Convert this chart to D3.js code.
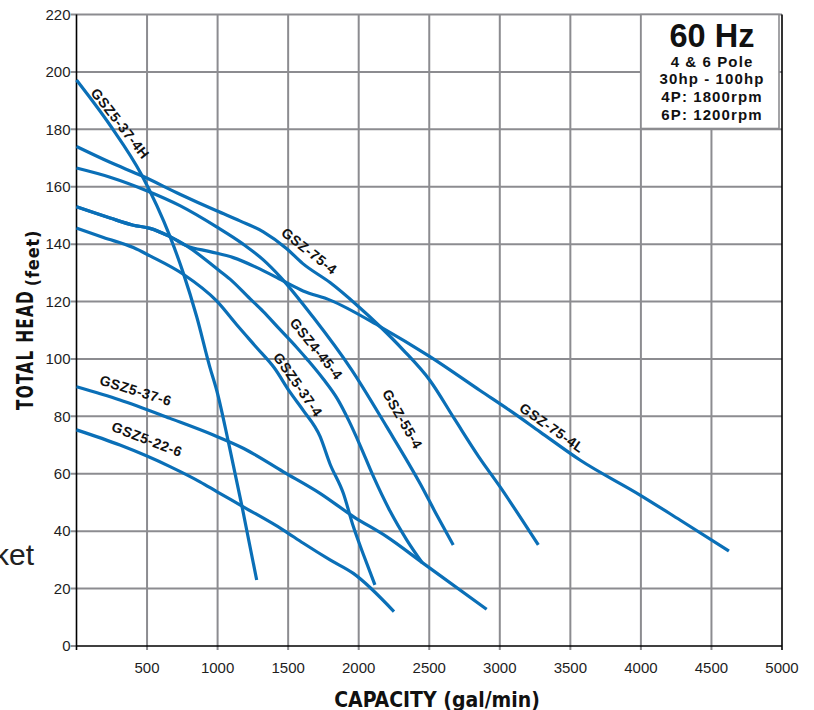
<!DOCTYPE html>
<html>
<head>
<meta charset="utf-8">
<script src="https://cdn.jsdelivr.net/npm/d3@7"></script>
<style>
  html, body { margin: 0; padding: 0; background: #fff; }
  svg { display: block; }
</style>
</head>
<body>
<svg id="chart" width="814" height="710"></svg>
<script>
// ---------- data (capacity gal/min, total head feet) ----------
const xTicks = [500, 1000, 1500, 2000, 2500, 3000, 3500, 4000, 4500, 5000];
const yTicks = [0, 20, 40, 60, 80, 100, 120, 140, 160, 180, 200, 220];

const seriesNames = ["GSZ5-37-4H", "GSZ-75-4", "GSZ-55-4", "GSZ-75-4L", "GSZ4-45-4", "GSZ5-37-4", "GSZ5-37-6", "GSZ5-22-6"];

const gsz5_37_4H = [[0,197.2],[237,181.5],[462,164.1],[663,142.6],[757,129.9],[852,114.7],[946,97],[994,89],[1076,71.2],[1171,49.1],[1277,23.0]];
const gsz_75_4   = [[0,174],[238,168.5],[462,163.8],[733,157.4],[993,151.6],[1158,148.1],[1324,144.3],[1488,138.5],[1602,133.3],[1797,126.6],[1986,118.8],[2151,111.3],[2316,103.1],[2505,92.5],[2680,79],[2850,66],[3001,55.5],[3273,35.2]];
const gsz_55_4   = [[0,166.5],[238,163.3],[498,158.6],[733,153.4],[993,146],[1181,140],[1324,134.5],[1442,128.7],[1678,114.5],[1950,96.2],[2198,76.4],[2434,56.7],[2560,45],[2670,35.2]];
const gsz_75_4L  = [[0,153],[238,149.1],[403,146.6],[521,145.5],[663,142.6],[781,139.4],[946,137.4],[1111,135.3],[1276,131.9],[1464,127.2],[1606,123.7],[1797,120.5],[2151,111.3],[2505,100.8],[2860,89],[3096,81.2],[3285,74.6],[3568,64.8],[3994,52.6],[4277,43.9],[4624,33.1]];
const gsz4_45_4  = [[0,153],[238,149.1],[403,146.6],[521,145.5],[663,142.6],[781,139.4],[993,131.5],[1088,127.8],[1229,121],[1324,116.5],[1428,111],[1561,104],[1641,99.5],[1749,93],[1850,86],[1930,78.5],[2009,70],[2100,59.5],[2222,47],[2340,37],[2450,29]];
const gsz5_37_4  = [[0,145.6],[191,142.3],[403,138.8],[521,135.9],[757,129.5],[993,120.2],[1134,112],[1276,104],[1400,97],[1512,88.5],[1608,82],[1726,73],[1796,63.5],[1891,53.2],[1962,41.6],[2040,31],[2115,21.3]];
const gsz5_37_6  = [[0,90.3],[308,85.7],[663,79.3],[970,73.5],[1182,68.9],[1466,60.7],[1726,53.2],[1962,45.1],[2198,38.1],[2458,28.8],[2907,12.8]];
const gsz5_22_6  = [[0,75.3],[308,70],[663,62.5],[875,57.2],[994,53.8],[1182,48.5],[1466,40.4],[1608,35.8],[1797,30],[1962,25.3],[2250,12]];

const seriesData = [gsz5_37_4H, gsz_75_4, gsz_55_4, gsz_75_4L, gsz4_45_4, gsz5_37_4, gsz5_37_6, gsz5_22_6];

// label centre (capacity, head) and rotation angle for each curve label
const labelCapacity = [310, 1650, 2310, 3370, 1700, 1570, 420, 500];
const labelHead     = [182, 137.6, 79, 76, 103.5, 91, 89, 72];
const labelAngle    = [52, 38, 60, 35, 51, 55, 17, 21];

const legendLines = ["4 & 6 Pole", "30hp - 100hp", "4P: 1800rpm", "6P: 1200rpm"];

// ---------- drawing ----------
const svg = d3.select("#chart");
const L = 76.5, R = 782, T = 14.5, B = 646;
const x = d3.scaleLinear().domain([0, 5000]).range([L, R]);
const y = d3.scaleLinear().domain([0, 220]).range([B, T]);

const gridColor = "#8c8c90";
const blue = "#0a6fb7";
const font = "'Liberation Sans', Arial, Helvetica, sans-serif";
const condensed = "'Liberation Sans Narrow', 'DejaVu Sans Condensed', 'Arial Narrow', 'Liberation Sans', sans-serif";

// grid
const g = svg.append("g");
g.selectAll("line.vg").data(xTicks.filter(d => d < 5000)).enter().append("line")
  .attr("x1", d => x(d)).attr("x2", d => x(d)).attr("y1", T).attr("y2", B + 4)
  .attr("stroke", gridColor).attr("stroke-width", 2);
g.selectAll("line.hg").data(yTicks.filter(d => d > 0)).enter().append("line")
  .attr("x1", L - 6).attr("x2", R).attr("y1", d => y(d)).attr("y2", d => y(d))
  .attr("stroke", gridColor).attr("stroke-width", 2);
g.append("line").attr("x1", L - 6).attr("x2", L).attr("y1", y(0)).attr("y2", y(0))
  .attr("stroke", gridColor).attr("stroke-width", 2);

// axes lines
g.append("line").attr("x1", L).attr("x2", L).attr("y1", T).attr("y2", B + 4).attr("stroke", "#000").attr("stroke-width", 1.6);
g.append("line").attr("x1", L).attr("x2", R).attr("y1", B).attr("y2", B).attr("stroke", "#000").attr("stroke-width", 1.6);
g.append("line").attr("x1", R).attr("x2", R).attr("y1", T).attr("y2", B + 4).attr("stroke", "#000").attr("stroke-width", 1.6);

// tick labels
svg.append("g").selectAll("text").data(xTicks).enter().append("text")
  .attr("x", d => x(d)).attr("y", 672.5).attr("text-anchor", "middle")
  .attr("font-family", font).attr("font-size", 15).attr("fill", "#1e1e1e")
  .text(d => d);
svg.append("g").selectAll("text").data(yTicks).enter().append("text")
  .attr("x", 70.5).attr("y", d => y(d) + 5.3).attr("text-anchor", "end")
  .attr("font-family", font).attr("font-size", 15).attr("fill", "#1e1e1e")
  .text(d => d);

// curves
const line = d3.line().x(d => x(d[0])).y(d => y(d[1])).curve(d3.curveMonotoneX);
svg.append("g").selectAll("path").data(seriesData).enter().append("path")
  .attr("d", line).attr("fill", "none").attr("stroke", blue)
  .attr("stroke-width", 3.2).attr("stroke-linecap", "butt").attr("stroke-linejoin", "round");

// curve labels
svg.append("g").selectAll("text").data(seriesNames).enter().append("text")
  .attr("transform", (d, i) => `translate(${x(labelCapacity[i])},${y(labelHead[i])}) rotate(${labelAngle[i]})`)
  .attr("text-anchor", "middle").attr("dy", "0.35em")
  .attr("font-family", font).attr("font-weight", "bold").attr("font-size", 14)
  .attr("letter-spacing", 0.6).attr("fill", "#111")
  .text(d => d);

// legend box
const lg = svg.append("g");
lg.append("rect").attr("x", 641).attr("y", T).attr("width", 138).attr("height", 114)
  .attr("fill", "#fff").attr("stroke", gridColor).attr("stroke-width", 1.6);
lg.append("text").attr("x", 712).attr("y", 47).attr("text-anchor", "middle")
  .attr("font-family", font).attr("font-weight", "bold").attr("font-size", 32.5).attr("fill", "#111")
  .text("60 Hz");
lg.selectAll("text.ll").data(legendLines).enter().append("text")
  .attr("x", 712).attr("y", (d, i) => 66.5 + i * 17.7).attr("text-anchor", "middle")
  .attr("font-family", font).attr("font-weight", "bold").attr("font-size", 15)
  .attr("letter-spacing", 1.1).attr("fill", "#111")
  .text(d => d);

// axis titles
svg.append("text").attr("x", 437).attr("y", 706.5).attr("text-anchor", "middle")
  .attr("font-family", condensed).attr("font-weight", "bold").attr("font-size", 21).attr("fill", "#111")
  .text("CAPACITY (gal/min)");

svg.append("text").attr("transform", "translate(33,350) rotate(-90) scale(1,1.4)").attr("text-anchor", "middle")
  .attr("font-family", condensed).attr("font-weight", "bold").attr("font-size", 17)
  .attr("letter-spacing", 1.3).attr("fill", "#111")
  .text("TOTAL HEAD");
svg.append("text").attr("transform", "translate(38.5,258) rotate(-90)").attr("text-anchor", "middle")
  .attr("font-family", condensed).attr("font-weight", "bold").attr("font-size", 18)
  .attr("letter-spacing", 0.8).attr("fill", "#111")
  .text("(feet)");

// stray text fragment at left edge (cut off in the original)
svg.append("text").attr("x", 34).attr("y", 565).attr("text-anchor", "end")
  .attr("font-family", font).attr("font-size", 30).attr("fill", "#222").text("ket");
</script>
</body>
</html>
